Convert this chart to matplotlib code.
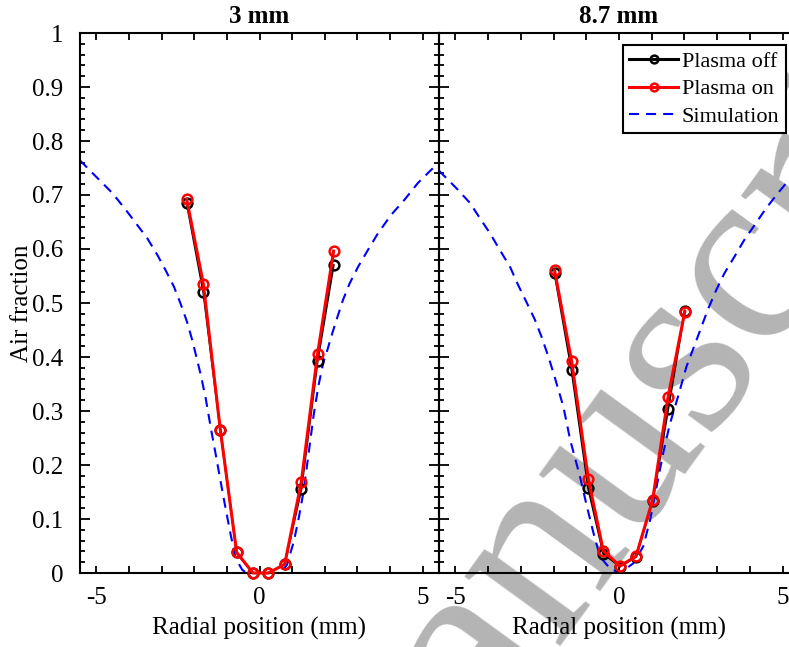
import numpy as np
import matplotlib.pyplot as plt
from matplotlib.ticker import MultipleLocator, FixedLocator

plt.rcParams['font.family'] = ['Liberation Serif', 'DejaVu Serif']
plt.rcParams['axes.unicode_minus'] = False

# measured air fraction, 3 mm downstream
x_3mm = [-2.23, -1.72, -1.20, -0.70, -0.20, 0.27, 0.77, 1.28, 1.78, 2.27]
off_3mm = [0.685, 0.520, 0.265, 0.038, 0.0, 0.0, 0.016, 0.155, 0.393, 0.570]
on_3mm = [0.692, 0.535, 0.265, 0.038, 0.0, 0.0, 0.016, 0.168, 0.406, 0.596]

# measured air fraction, 8.7 mm downstream
x_87mm = [-1.97, -1.45, -0.94, -0.48, 0.03, 0.52, 1.03, 1.50, 2.01]
off_87mm = [0.555, 0.376, 0.157, 0.036, 0.012, 0.030, 0.134, 0.303, 0.486]
on_87mm = [0.561, 0.393, 0.175, 0.041, 0.013, 0.031, 0.136, 0.326, 0.484]

# simulated profiles
sim_x_3mm = [-5.5, -4.91, -4.50, -4.09, -3.74, -3.44, -3.13, -2.88, -2.62, -2.42,
             -2.22, -2.06, -1.95, -1.80, -1.65, -1.49, -1.34, -1.19, -1.04, -0.88,
             -0.73, -0.53, -0.40, 0.65, 0.84, 1.05, 1.20, 1.35, 1.50, 1.66,
             1.81, 1.96, 2.06, 2.20, 2.36, 2.56, 2.76, 3.02, 3.32, 3.63,
             4.03, 4.44, 4.85, 5.25, 5.5]
sim_y_3mm = [0.764, 0.728, 0.703, 0.672, 0.644, 0.620, 0.589, 0.561, 0.530, 0.499,
             0.465, 0.431, 0.404, 0.367, 0.324, 0.268, 0.219, 0.169, 0.120, 0.070,
             0.027, 0.006, 0.0, 0.0, 0.015, 0.058, 0.101, 0.151, 0.219, 0.293,
             0.348, 0.391, 0.409, 0.438, 0.469, 0.506, 0.536, 0.567, 0.598, 0.629,
             0.663, 0.691, 0.722, 0.746, 0.760]
sim_x_87mm = [-5.5, -4.96, -4.55, -4.25, -3.94, -3.64, -3.33, -3.08, -2.83, -2.57,
              -2.37, -2.16, -2.00, -1.70, -1.49, -1.19, -0.98, -0.78, -0.58, -0.27,
              0.03, 0.44, 0.74, 0.95, 1.15, 1.35, 1.55, 1.81, 2.06, 2.39,
              2.71, 2.97, 3.22, 3.53, 3.83, 4.14, 4.49, 4.85, 5.15, 5.5]
sim_y_87mm = [0.745, 0.712, 0.685, 0.657, 0.629, 0.598, 0.567, 0.533, 0.502, 0.469,
              0.438, 0.401, 0.370, 0.308, 0.246, 0.178, 0.123, 0.074, 0.030, 0.008,
              0.0, 0.018, 0.049, 0.098, 0.160, 0.222, 0.275, 0.328, 0.382, 0.435,
              0.487, 0.524, 0.555, 0.586, 0.617, 0.644, 0.675, 0.703, 0.725, 0.748]

titles = ['3 mm', '8.7 mm']
ytick_labels = ['0', '0.1', '0.2', '0.3', '0.4', '0.5', '0.6', '0.7', '0.8', '0.9', '1']

W, H = 789, 647
fig = plt.figure(figsize=(W / 100, H / 100), dpi=100)
ax1 = fig.add_axes([80 / W, 74 / H, 359 / W, 540 / H])
ax2 = fig.add_axes([439 / W, 74 / H, 360 / W, 540 / H])

panels = [(ax1, x_3mm, off_3mm, on_3mm, sim_x_3mm, sim_y_3mm),
          (ax2, x_87mm, off_87mm, on_87mm, sim_x_87mm, sim_y_87mm)]

for i, (ax, x, off, on, sx, sy) in enumerate(panels):
    ax.set_facecolor('none')
    ax.plot(x, off, '-o', color='k', lw=1.5, ms=7, mfc='none', mew=1.8,
            clip_on=False, label='Plasma off', zorder=3)
    ax.plot(x, on, '-o', color='#ff0000', lw=2.2, ms=7, mfc='none', mew=1.8,
            clip_on=False, label='Plasma on', zorder=4)
    ax.plot(sx, sy, color='#0000ff', lw=1.5, ls=(0, (4.8, 3.4)),
            label='Simulation', zorder=2)
    ax.set_xlim(-5.5, 5.5)
    ax.set_ylim(0, 1)
    ax.set_title(titles[i], fontsize=18, fontweight='bold', pad=7)
    ax.set_xlabel('Radial position (mm)', fontsize=18, labelpad=6)
    ax.xaxis.set_major_locator(FixedLocator([-5, 0, 5]))
    ax.xaxis.set_minor_locator(MultipleLocator(1))
    ax.yaxis.set_major_locator(MultipleLocator(0.1))
    ax.yaxis.set_minor_locator(MultipleLocator(0.02))
    ax.tick_params(which='both', direction='in', top=True, right=True,
                   width=1.3, labelsize=18)
    ax.tick_params(axis='x', which='both', length=5, pad=10)
    ax.tick_params(axis='y', which='major', length=7, pad=12)
    ax.tick_params(axis='y', which='minor', length=3.5)
    for sp in ax.spines.values():
        sp.set_linewidth(1.5)

ax1.set_yticks(np.arange(0, 1.01, 0.1))
ax1.set_yticklabels(ytick_labels)
ax1.set_ylabel('Air fraction', fontsize=18, labelpad=-1)
ax2.tick_params(axis='y', labelleft=False)

leg = ax2.legend(loc='upper right', bbox_to_anchor=(786 / W, 1 - 45 / H),
                 bbox_transform=fig.transFigure, borderaxespad=0,
                 fontsize=16, fancybox=False, edgecolor='k', framealpha=1,
                 handlelength=2.2, handletextpad=0.15, labelspacing=0.3,
                 borderpad=0.3, numpoints=1, markerscale=0.8)
leg.get_frame().set_linewidth(1.5)
for h in leg.get_lines()[:2]:
    h.set_linewidth(2.2)

# grey watermark behind the axes
fig.text(697 / W, 1 - 447 / H, 'Manuscript', rotation=54, rotation_mode='anchor',
         ha='center', va='baseline', fontsize=185, color='#b4b4b4', zorder=-1)

fig.savefig('out.png', dpi=100)
